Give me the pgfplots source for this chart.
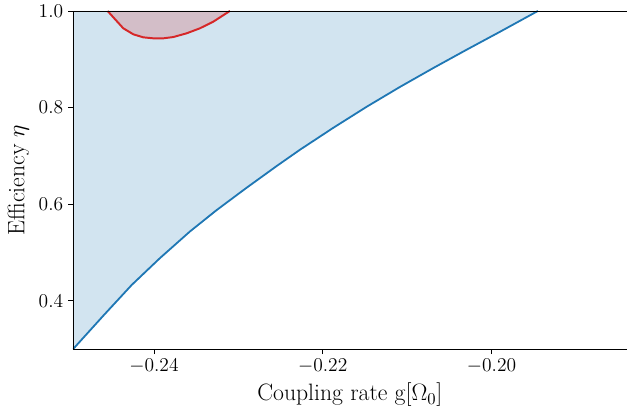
\RequirePackage{fix-cm}
\documentclass[border=0pt]{standalone}
\usepackage{fontspec}
\usepackage{pgfplots}
\pgfplotsset{compat=1.18}
\definecolor{mblue}{HTML}{1F77B4}
\definecolor{mred}{HTML}{D62728}
\pgfplotstableread{
x y
-0.2496 0.3
-0.24601 0.3693
-0.24264 0.4330
-0.23929 0.4886
-0.23573 0.5438
-0.23257 0.5880
-0.22902 0.6342
-0.22546 0.6791
-0.22270 0.7128
-0.21876 0.7581
-0.21480 0.8017
-0.21085 0.8428
-0.20691 0.8818
-0.20295 0.9198
-0.19900 0.9569
-0.1945 1.0
}\bluedata
\pgfplotstableread{
x y
-0.2455 1.0
-0.24462 0.9829
-0.24364 0.9641
-0.24245 0.9516
-0.24127 0.9454
-0.24008 0.9433
-0.23890 0.9433
-0.23771 0.9460
-0.23613 0.9537
-0.23455 0.9641
-0.23297 0.9778
-0.2310 1.0
}\reddata
\begin{document}
\begin{tikzpicture}
\begin{axis}[
 scale only axis, width=397pt, height=242.6pt,
 xmin=-0.2496, xmax=-0.184, ymin=0.3, ymax=1.0,
 separate axis lines, axis x line=box, axis y line=left,
 axis line style={-, line width=0.6pt},
 axis on top,
 xtick={-0.24,-0.22,-0.20}, ytick={0.4,0.6,0.8,1.0},
 xtick pos=bottom, ytick pos=left, tick align=outside,
 major tick length=3.5pt, tick style={line width=0.6pt, black},
 x tick label style={/pgf/number format/fixed, /pgf/number format/fixed zerofill, /pgf/number format/precision=2},
 y tick label style={/pgf/number format/fixed, /pgf/number format/fixed zerofill, /pgf/number format/precision=1},
 ticklabel style={font=\fontsize{14}{16}\selectfont},
 label style={font=\fontsize{17}{20}\selectfont},
 xlabel={Coupling rate g[$\Omega_0$]},
 ylabel={Efficiency $\eta$},
]
\addplot[fill=mblue, fill opacity=0.2, draw=none] table[x=x,y=y] {\bluedata} -- (axis cs:-0.2496,1.0) -- cycle;
\addplot[fill=mred, fill opacity=0.2, draw=none] table[x=x,y=y] {\reddata} -- cycle;
\addplot[mblue, line width=1.3pt] table[x=x,y=y] {\bluedata};
\addplot[mred, line width=1.4pt] table[x=x,y=y] {\reddata};
\end{axis}
\path (current axis.outer west) ++(-2.2pt,0) coordinate (padL);
\path (padL) rectangle (padL);
\end{tikzpicture}
\end{document}
